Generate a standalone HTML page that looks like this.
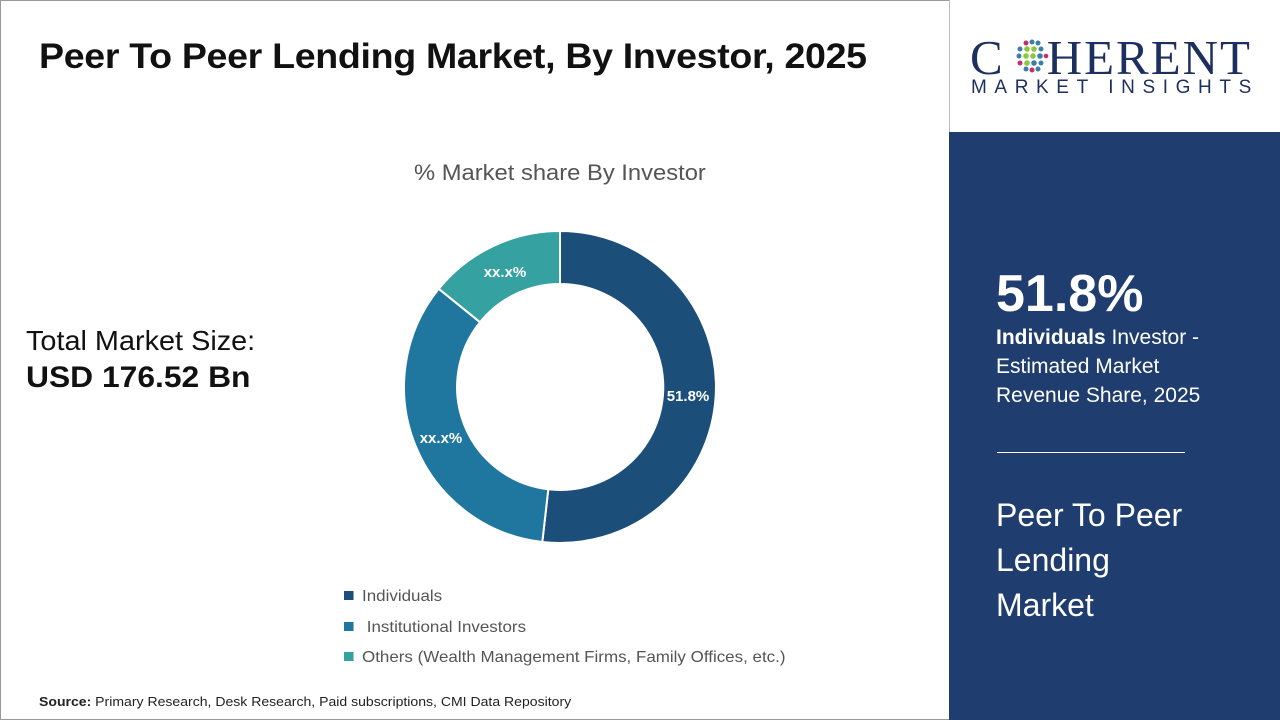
<!DOCTYPE html>
<html><head><meta charset="utf-8"><style>
html,body{margin:0;padding:0}
body{width:1280px;height:720px;position:relative;overflow:hidden;background:#fff;font-family:"Liberation Sans",sans-serif}
.frame{position:absolute;left:0;top:0;width:1278px;height:718px;border:1px solid #9a9a9a}
.abs{position:absolute;white-space:nowrap;transform-origin:0 0}
.title{left:39px;top:37px;font-size:35px;font-weight:bold;color:#111;letter-spacing:-0.3px;transform:scaleX(1.073)}
.sub{left:414px;top:160px;font-size:22px;color:#555;transform:scaleX(1.08)}
.tm{left:26px;top:325px;font-size:28px;color:#111;transform:scaleX(1.03)}
.tm2{left:26px;top:361px;font-size:30px;font-weight:bold;color:#111;transform:scaleX(1.06)}
.leg{font-size:16px;color:#555;transform:scaleX(1.06)}
.sq{display:inline-block;width:9px;height:9px;margin-right:8px;vertical-align:1px}
.src{left:39px;top:694px;font-size:13px;color:#222;transform:scaleX(1.08)}
.panel{position:absolute;left:949px;top:132px;width:331px;height:588px;background:#1f3d6e}
.logoarea{position:absolute;left:949px;top:0;width:331px;height:132px;background:#fff;border-left:1px solid #bbb}
</style></head><body>
<div class="frame"></div>
<div class="abs title">Peer To Peer Lending Market, By Investor, 2025</div>
<div class="abs sub">% Market share By Investor</div>
<div class="abs tm">Total Market Size:</div>
<div class="abs tm2">USD 176.52 Bn</div>
<svg class="abs" style="left:0;top:0" width="949" height="720">
<path d="M560,231 A156,156 0 1 1 542.3,542 L548.3,489.3 A103,103 0 1 0 560,284 Z" fill="#1b4e78" stroke="#fff" stroke-width="2"/>
<path d="M542.3,542 A156,156 0 0 1 438.8,288.8 L480,322.2 A103,103 0 0 0 548.3,489.3 Z" fill="#1f77a0" stroke="#fff" stroke-width="2"/>
<path d="M438.8,288.8 A156,156 0 0 1 560,231 L560,284 A103,103 0 0 0 480,322.2 Z" fill="#36a1a1" stroke="#fff" stroke-width="2"/>
<text x="688" y="401" fill="#fff" font-size="15" font-weight="bold" text-anchor="middle" font-family="Liberation Sans">51.8%</text>
<text x="441" y="443" fill="#fff" font-size="15" font-weight="bold" text-anchor="middle" font-family="Liberation Sans">xx.x%</text>
<text x="505" y="277" fill="#fff" font-size="15" font-weight="bold" text-anchor="middle" font-family="Liberation Sans">xx.x%</text>
</svg>
<div class="abs leg" style="left:344px;top:588px"><span class="sq" style="background:#1b4e78"></span>Individuals</div>
<div class="abs leg" style="left:344px;top:619px"><span class="sq" style="background:#1f77a0"></span> Institutional Investors</div>
<div class="abs leg" style="left:344px;top:649px"><span class="sq" style="background:#36a1a1"></span>Others (Wealth Management Firms, Family Offices, etc.)</div>
<div class="abs src"><b>Source:</b> Primary Research, Desk Research, Paid subscriptions, CMI Data Repository</div>
<div class="logoarea">
 <div class="abs" style="left:20px;top:29px;font-family:'Liberation Serif',serif;font-size:49px;color:#1d2f5e;letter-spacing:2px">C<span style="display:inline-block;width:42px"></span>HERENT</div>
 <svg class="abs" style="left:64px;top:38px" width="36" height="36">
  <g>
   <circle cx="12" cy="5" r="2.5" fill="#c0306a"/><circle cx="18" cy="4" r="2.5" fill="#3a7fa6"/><circle cx="24" cy="5" r="2.5" fill="#3a7fa6"/>
   <circle cx="6" cy="11" r="2.5" fill="#3a7fa6"/><circle cx="13" cy="11" r="2.8" fill="#8cc63f"/><circle cx="20" cy="11" r="2.8" fill="#8cc63f"/><circle cx="27" cy="11" r="2.5" fill="#3a7fa6"/>
   <circle cx="5" cy="18" r="2.5" fill="#3a7fa6"/><circle cx="12" cy="18" r="2.8" fill="#8cc63f"/><circle cx="19" cy="18" r="2.8" fill="#8cc63f"/><circle cx="26" cy="18" r="2.8" fill="#3a7fa6"/><circle cx="32" cy="18" r="2.3" fill="#c0306a"/>
   <circle cx="6" cy="25" r="2.5" fill="#c0306a"/><circle cx="13" cy="25" r="2.8" fill="#8cc63f"/><circle cx="20" cy="25" r="2.8" fill="#3a7fa6"/><circle cx="27" cy="25" r="2.5" fill="#3a7fa6"/>
   <circle cx="12" cy="31" r="2.5" fill="#3a7fa6"/><circle cx="18" cy="32" r="2.5" fill="#c0306a"/><circle cx="24" cy="31" r="2.5" fill="#3a7fa6"/>
  </g>
 </svg>
 <div class="abs" style="left:21px;top:77px;font-size:19px;color:#1d2f5e;letter-spacing:7.6px">MARKET INSIGHTS</div>
</div>
<div class="panel">
 <div class="abs" style="left:47px;top:132px;font-size:52px;font-weight:bold;color:#fff">51.8%</div>
 <div class="abs" style="left:47px;top:191px;font-size:21px;color:#fff;line-height:29px"><b>Individuals</b> Investor -<br>Estimated Market<br>Revenue Share, 2025</div>
 <div class="abs" style="left:48px;top:320px;width:188px;height:1px;background:#fff"></div>
 <div class="abs" style="left:47px;top:361px;font-size:32px;color:#fff;line-height:45px">Peer To Peer<br>Lending<br>Market</div>
</div>
</body></html>
